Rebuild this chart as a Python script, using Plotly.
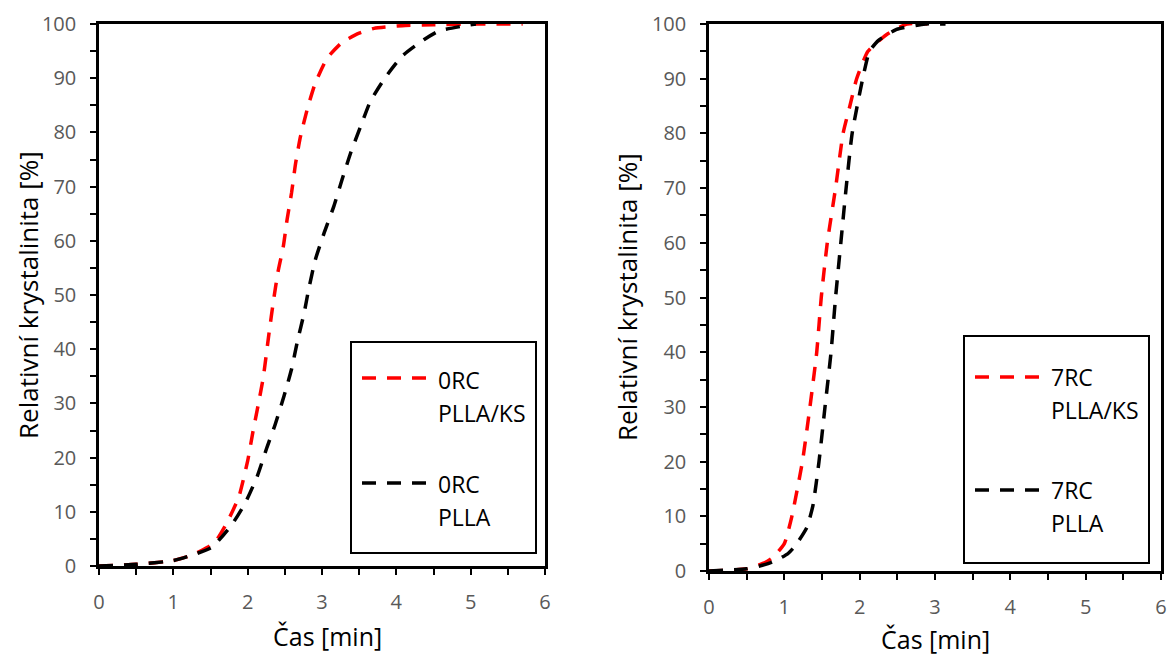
import plotly.graph_objects as go

# ---- data ----
left_ks_x = [0, 0.5, 1.0, 1.25, 1.46, 1.59, 1.725, 1.88, 2.0, 2.07, 2.14, 2.21, 2.285, 2.35, 2.41, 2.48, 2.53, 2.59, 2.645, 2.71, 2.80, 2.91, 3.07, 3.27, 3.5, 3.7, 4.08, 4.5, 5.0, 5.7]
left_ks_y = [0, 0.3, 1.0, 2.0, 3.45, 5, 8.1, 12.7, 19.4, 24.7, 29.6, 34.8, 42.7, 49.2, 54.4, 59, 63.9, 68.8, 74.3, 79.2, 84.2, 89.1, 93.7, 96.6, 98.3, 99.2, 99.7, 99.85, 100, 100]

left_pl_x = [0, 0.5, 1.0, 1.25, 1.52, 1.79, 1.97, 2.13, 2.26, 2.37, 2.49, 2.59, 2.67, 2.76, 2.82, 2.91, 3.03, 3.16, 3.27, 3.385, 3.52, 3.65, 3.86, 4.08, 4.37, 4.57, 4.89, 5.07]
left_pl_y = [0, 0.3, 1.0, 2.0, 3.45, 7.7, 11.7, 16.6, 21.9, 26.1, 31.4, 36.3, 41.5, 46.7, 51, 56.5, 61.5, 66.4, 71.3, 76.2, 81.1, 85.7, 90.3, 94.1, 97.1, 98.7, 99.6, 100]

right_ks_x = [0, 0.5, 0.75, 0.85, 1.0, 1.1, 1.24, 1.34, 1.43, 1.49, 1.57, 1.68, 1.78, 1.87, 1.96, 2.11, 2.35, 2.63, 2.9]
right_ks_y = [0, 0.4, 1.6, 2.5, 5, 10, 20, 30, 40, 50, 60, 70, 80, 85, 90, 95, 98, 100, 100]

right_pl_x = [0, 0.5, 0.75, 0.9, 1.05, 1.15, 1.3, 1.38, 1.46, 1.54, 1.62, 1.68, 1.75, 1.82, 1.90, 2.04, 2.13, 2.25, 2.49, 2.87, 3.14]
right_pl_y = [0, 0.4, 1.2, 2.0, 3.2, 4.7, 8, 12, 20, 30, 40, 50, 60, 70, 80, 90, 95, 97, 99, 100, 100]

left_names = ["0RC", "PLLA/KS", "0RC", "PLLA"]
right_names = ["7RC", "PLLA/KS", "7RC", "PLLA"]

y_tickvals = list(range(0, 101, 5))
y_ticktext = [str(v) if v % 10 == 0 else "" for v in y_tickvals]
x_tickvals = [i * 0.5 for i in range(13)]
x_ticktext = [str(int(v)) if v == int(v) else "" for v in x_tickvals]

x_title = "Čas [min]"
y_title = "Relativní krystalinita [%]"

W, H = 1167, 655
FONT = "Open Sans"
RED = "#ff0000"
BLACK = "#000000"
DASH = "14px,11px"


def px(x):
    return x / W


def py(y):
    return 1 - y / H


fig = go.Figure()

for xs, ys, col, xa, ya in [(left_ks_x, left_ks_y, RED, "x", "y"),
                            (left_pl_x, left_pl_y, BLACK, "x", "y"),
                            (right_ks_x, right_ks_y, RED, "x2", "y2"),
                            (right_pl_x, right_pl_y, BLACK, "x2", "y2")]:
    fig.add_trace(go.Scatter(x=xs, y=ys, mode="lines", xaxis=xa, yaxis=ya,
                             line=dict(color=col, width=3.5, dash=DASH, shape="spline", smoothing=0.5),
                             showlegend=False, hoverinfo="skip"))

axis_common = dict(showline=True, linecolor="black", linewidth=2.5, mirror=True,
                   showgrid=False, zeroline=False, ticks="outside", ticklen=6,
                   tickwidth=2, tickcolor="black", automargin=False,
                   tickfont=dict(family=FONT, size=20, color="#595959"),
                   layer="below traces")

xl = dict(axis_common, range=[0, 6], tickmode="array", tickvals=x_tickvals, ticktext=x_ticktext,
          ticklabelstandoff=10)
yl = dict(axis_common, range=[0, 100], tickmode="array", tickvals=y_tickvals, ticktext=y_ticktext,
          ticklabelstandoff=10)

fig.update_layout(
    width=W, height=H,
    margin=dict(l=0, r=0, t=0, b=0, autoexpand=False),
    paper_bgcolor="white", plot_bgcolor="white",
    showlegend=False,
    xaxis=dict(xl, domain=[px(99), px(545)], anchor="y"),
    yaxis=dict(yl, domain=[py(566), py(24)], anchor="x"),
    xaxis2=dict(xl, domain=[px(709), px(1161)], anchor="y2"),
    yaxis2=dict(yl, domain=[py(571), py(24)], anchor="x2"),
)

shapes = []
annotations = []


def legend(box, line_x0, line_x1, line_ys, text_x, text_ys, names):
    x0, y0, x1, y1 = box
    shapes.append(dict(type="rect", xref="paper", yref="paper",
                       x0=px(x0), x1=px(x1), y0=py(y1), y1=py(y0),
                       line=dict(color="black", width=2), fillcolor="white", layer="above"))
    for ly, col in zip(line_ys, [RED, BLACK]):
        shapes.append(dict(type="line", xref="paper", yref="paper",
                           x0=px(line_x0), x1=px(line_x1), y0=py(ly), y1=py(ly),
                           line=dict(color=col, width=3.5, dash=DASH), layer="above"))
    for ty, name in zip(text_ys, names):
        annotations.append(dict(xref="paper", yref="paper", x=px(text_x), y=py(ty),
                                xanchor="left", yanchor="middle", showarrow=False,
                                text=name, font=dict(family=FONT, size=23, color="black")))


legend((351, 342, 536, 553), 362, 434, [378, 483], 436, [380, 413, 484, 517], left_names)
legend((964, 336, 1149, 563), 975, 1047, [377, 490], 1049, [377, 410, 490, 523], right_names)

for cx, cy in [(327, 636), (935, 639)]:
    annotations.append(dict(xref="paper", yref="paper", x=px(cx), y=py(cy),
                            xanchor="center", yanchor="middle", showarrow=False,
                            text=x_title, font=dict(family=FONT, size=25, color="black")))
for cx, cy in [(28, 295), (627, 297)]:
    annotations.append(dict(xref="paper", yref="paper", x=px(cx), y=py(cy),
                            xanchor="center", yanchor="middle", showarrow=False, textangle=-90,
                            text=y_title, font=dict(family=FONT, size=26, color="black")))

fig.update_layout(shapes=shapes, annotations=annotations)

fig.write_html("out.html", config={"displayModeBar": False},
               post_script="document.body.style.margin='0';")
